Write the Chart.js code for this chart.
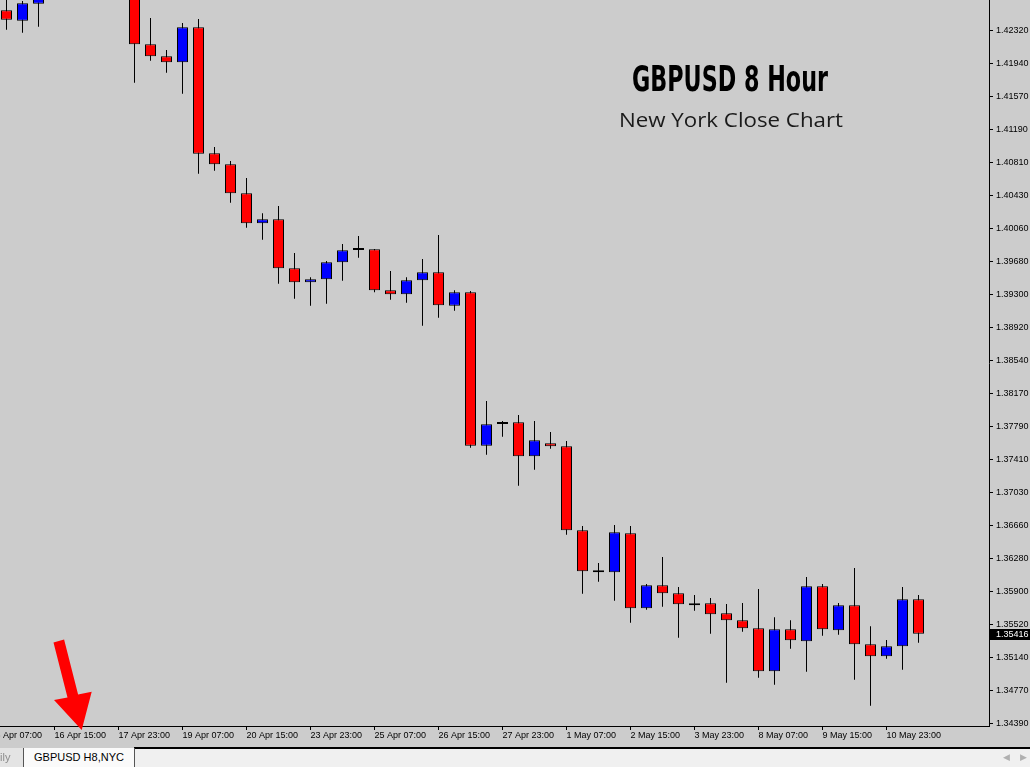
<!DOCTYPE html>
<html>
<head>
<meta charset="utf-8">
<script src="https://cdn.jsdelivr.net/npm/chart.js@4.4.1/dist/chart.umd.min.js"></script>
<style>
html,body{margin:0;padding:0;width:1030px;height:767px;overflow:hidden;background:#cccccc;}
#wrap{position:relative;width:1030px;height:767px;}
#c{position:absolute;left:0;top:0;}
#ov{position:absolute;left:0;top:0;pointer-events:none;}
#tabs{position:absolute;left:0;top:748px;width:1030px;height:19px;background:#f0f0f0;font-family:'Liberation Sans',Arial,sans-serif;font-size:11px;}
#tabs .topline{position:absolute;left:134px;right:0;top:-1px;height:2px;background:#000;}
#tabs .t0{position:absolute;left:0;top:0;width:23px;height:19px;background:#e4e4e4;color:#8c8c8c;line-height:19px;overflow:hidden;}
#tabs .t1{position:absolute;left:23px;top:0;width:110px;height:19px;background:#fafafa;border-left:1px solid #555;border-right:1px solid #555;color:#000;line-height:19px;text-align:center;}
#tabs .arr{position:absolute;top:0;line-height:19px;color:#b0b0b0;font-size:9px;}
</style>
</head>
<body>
<div id="wrap">
<canvas id="c" width="1030" height="748"></canvas>
<svg id="ov" width="1030" height="748" xmlns="http://www.w3.org/2000/svg">
  <text x="632" y="91" font-family="'Liberation Sans Narrow','DejaVu Sans Condensed',sans-serif" font-weight="bold" font-size="35" fill="#000" textLength="196" lengthAdjust="spacingAndGlyphs">GBPUSD 8 Hour</text>
  <text x="619" y="127" font-family="'Open Sans',sans-serif" font-size="20" fill="#1a1a1a" textLength="224" lengthAdjust="spacingAndGlyphs">New York Close Chart</text>
  <polygon points="53.5,642.4 64.1,639.6 78.1,694.6 91.7,691.7 81.7,730 54,700 67.5,697.4" fill="#ff0000"/>
</svg>
<div id="tabs">
  <div class="topline"></div>
  <div class="t0">ily</div>
  <div class="t1">GBPUSD H8,NYC</div>
  <span class="arr" style="left:1003px">&#9664;</span>
  <span class="arr" style="left:1020px">&#9654;</span>
</div>
</div>
<script>
// GBPUSD H8 candles (index 0 = leftmost bar)
const opens  = [1.42554,1.42435,1.42629,1.42800,1.43100,1.43420,1.43300,1.43000,1.42820,1.42165,
                1.42027,1.41958,1.42359,1.40917,1.40791,1.40459,1.40115,1.40161,1.39600,1.39439,
                1.39474,1.39668,1.39813,1.39817,1.39348,1.39302,1.39462,1.39554,1.39171,1.39325,
                1.37569,1.37820,1.37837,1.37447,1.37596,1.37562,1.36600,1.36142,1.36119,1.36566,
                1.35707,1.35970,1.35879,1.35741,1.35764,1.35650,1.35569,1.35478,1.34985,1.35466,
                1.35329,1.35959,1.35455,1.35741,1.35295,1.35157,1.35272,1.35810];
const highs  = [1.42750,1.42660,1.42900,1.43180,1.43520,1.43770,1.43480,1.43180,1.42900,1.42466,
                1.42099,1.42408,1.42454,1.40989,1.40828,1.40634,1.40230,1.40313,1.39775,1.39497,
                1.39683,1.39878,1.39970,1.39820,1.39569,1.39497,1.39706,1.39981,1.39348,1.39340,
                1.38080,1.37851,1.37920,1.37851,1.37725,1.37622,1.36649,1.36225,1.36661,1.36649,
                1.35985,1.36294,1.35951,1.35859,1.35825,1.35756,1.35767,1.35928,1.35604,1.35569,
                1.36065,1.35985,1.35767,1.36168,1.35501,1.35344,1.35951,1.35859];
const lows   = [1.42332,1.42297,1.42366,1.42700,1.42980,1.43250,1.42900,1.42700,1.41725,1.41977,
                1.41839,1.41599,1.40683,1.40717,1.40351,1.40065,1.39927,1.39423,1.39252,1.39171,
                1.39194,1.39458,1.39721,1.39325,1.39240,1.39206,1.38943,1.39034,1.39114,1.37546,
                1.37466,1.37672,1.37111,1.37294,1.37534,1.36550,1.35874,1.36011,1.35794,1.35542,
                1.35691,1.35725,1.35370,1.35679,1.35416,1.34855,1.35439,1.34912,1.34832,1.35244,
                1.34981,1.35393,1.35404,1.34889,1.34592,1.35130,1.35004,1.35313];
const closes = [1.42446,1.42634,1.42800,1.43100,1.43420,1.43300,1.43000,1.42820,1.42165,1.42027,
                1.41958,1.42359,1.40912,1.40791,1.40459,1.40115,1.40161,1.39600,1.39439,1.39474,
                1.39668,1.39806,1.39810,1.39348,1.39302,1.39462,1.39554,1.39176,1.39325,1.37569,
                1.37814,1.37818,1.37447,1.37630,1.37562,1.36600,1.36130,1.36119,1.36577,1.35707,
                1.35970,1.35879,1.35753,1.35764,1.35638,1.35569,1.35478,1.34985,1.35466,1.35340,
                1.35959,1.35466,1.35741,1.35295,1.35157,1.35272,1.35810,1.35416];

// time axis labels and the bar index each label belongs to
const tickIndex  = [-1,3,7,11,15,19,23,27,31,35,39,43,47,51,55];
const tickLabels = ["15 Apr 07:00","16 Apr 15:00","17 Apr 23:00","19 Apr 07:00","20 Apr 15:00",
                    "23 Apr 23:00","25 Apr 07:00","26 Apr 15:00","27 Apr 23:00","1 May 07:00",
                    "2 May 15:00","3 May 23:00","8 May 07:00","9 May 15:00","10 May 23:00"];
// price axis labels
const priceTicks = [1.42700,1.42320,1.41940,1.41570,1.41190,1.40810,1.40430,1.40060,1.39680,1.39300,
                    1.38920,1.38540,1.38170,1.37790,1.37410,1.37030,1.36660,1.36280,1.35900,1.35520,
                    1.35140,1.34770,1.34390];

const AXFONT = {family:"'Liberation Sans', Arial, sans-serif", size:9};

const bodies = opens.map((o,i)=>({x:i, y:[o, closes[i]]}));
const wicks  = lows.map((l,i)=>({x:i, y:[l, highs[i]]}));
const bodyColors = opens.map((o,i)=> closes[i] > o ? '#0000ff' : '#ff0000');

const lastPrice = {
  id:'lastPrice',
  afterDraw(chart){
    const ys = chart.scales.y, ctx = chart.ctx;
    const v = closes[closes.length-1];
    const y = Math.round(ys.getPixelForValue(v));
    ctx.save();
    ctx.fillStyle = '#000';
    ctx.fillRect(ys.left + 1, y - 5, chart.width - ys.left - 1, 11);
    ctx.fillStyle = '#fff';
    ctx.font = "9px 'Liberation Sans', Arial, sans-serif";
    ctx.textBaseline = 'middle';
    ctx.textAlign = 'left';
    ctx.fillText(v.toFixed(5), ys.left + 7, y + 0.5);
    ctx.restore();
  }
};

new Chart(document.getElementById('c'), {
  type: 'bar',
  data: {
    datasets: [
      { label:'body', data: bodies, backgroundColor: bodyColors, borderColor:'#000', borderWidth:1,
        borderSkipped:false, inflateAmount:0, barThickness:11, minBarLength:2, grouped:false, order:0, clip:0 },
      { label:'wick', data: wicks, backgroundColor:'#000', borderWidth:0,
        borderSkipped:false, inflateAmount:0, barThickness:1, grouped:false, order:1, clip:0 }
    ]
  },
  options: {
    responsive:false, animation:false, events:[],
    layout:{padding:0},
    plugins:{legend:{display:false}, tooltip:{enabled:false}, title:{display:false}},
    scales:{
      x:{
        type:'linear', offset:false, min:-0.40625, max:61.40625,
        afterBuildTicks:s=>{ s.ticks = tickIndex.map(v=>({value:v})); },
        afterFit:s=>{ s.height = 22; s.paddingLeft = 0; s.paddingRight = 0; },
        ticks:{ autoSkip:false, maxRotation:0, minRotation:0, align:'start', padding:0, color:'#000', font:AXFONT,
                callback:(v,i)=>tickLabels[i] },
        grid:{ offset:false, drawOnChartArea:false, drawTicks:true, tickLength:4, color:'#000' },
        border:{ display:true, color:'#000', width:1 }
      },
      y:{
        position:'right', min:1.34359, max:1.42672,
        afterBuildTicks:s=>{ s.ticks = priceTicks.slice().sort((a,b)=>a-b).map(v=>({value:v})); },
        afterFit:s=>{ s.width = 41; s.paddingTop = 0; s.paddingBottom = 0; },
        ticks:{ padding:3, color:'#000', font:AXFONT, callback:v=>v.toFixed(5) },
        grid:{ drawOnChartArea:false, drawTicks:true, tickLength:4, color:'#000' },
        border:{ display:true, color:'#000', width:1 }
      }
    }
  },
  plugins:[lastPrice]
});
</script>
</body>
</html>
